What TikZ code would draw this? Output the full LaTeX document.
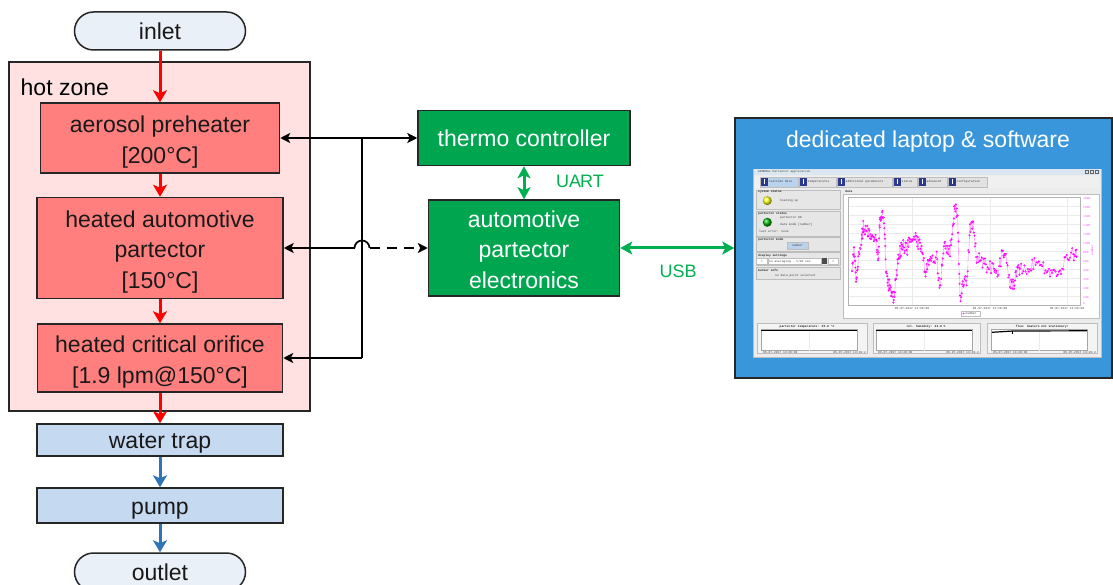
\documentclass[tikz,border=0pt]{standalone}
\usepackage{fontspec}
\setmainfont{Liberation Sans}
\newfontfamily\monof{Liberation Mono}
\usetikzlibrary{arrows.meta}
\definecolor{inletfill}{HTML}{EAF0F8}
\definecolor{hotfill}{HTML}{FFE1E1}
\definecolor{redbox}{HTML}{FF7F7F}
\definecolor{bluebox}{HTML}{C5D9F1}
\definecolor{flowred}{HTML}{FF0000}
\definecolor{flowblue}{HTML}{2E75B6}
\definecolor{greenbox}{HTML}{00A550}
\definecolor{greenline}{HTML}{00B050}
\definecolor{laptopblue}{HTML}{3A96DB}
\definecolor{edge}{HTML}{262626}
\definecolor{mag}{HTML}{FF00FF}
\definecolor{ssbg}{HTML}{ECECEC}
\definecolor{sspanel}{HTML}{E6E6E6}
\definecolor{ssline}{HTML}{BDBDBD}
\definecolor{sstitle}{HTML}{DCE6F0}
\definecolor{sstab}{HTML}{E2E2E2}
\definecolor{sstabsel}{HTML}{BBD2EC}
\definecolor{ssicon}{HTML}{2B3A8C}
\definecolor{ssgrid}{HTML}{EBEBEB}
\tikzset{ctip/.tip={Stealth[length=10pt,width=10pt,inset=2.5pt]}}
\newcommand\mstrut{\rule[-5pt]{0pt}{30pt}}
\newcommand\sstrut{\rule[-5pt]{0pt}{27pt}}
\begin{document}
\begin{tikzpicture}[x=1pt,y=-1pt,
  big/.style={font=\fontsize{23}{29.5}\selectfont},
  box/.style={draw=edge, line width=1.5pt, inner sep=0pt, align=center, big, text=black!90},
  pill/.style={box, fill=inletfill, rounded corners=19pt, minimum width=171pt, minimum height=38pt},
  hotbox/.style={box, fill=redbox, minimum width=245pt},
  coldbox/.style={box, fill=bluebox, minimum width=246pt},
  gbox/.style={box, fill=greenbox, text=white},
  redflow/.style={draw=flowred, line width=3pt, -{Stealth[length=12pt,width=14pt,inset=3pt]}},
  blueflow/.style={draw=flowblue, line width=3pt, -{Stealth[length=12pt,width=14pt,inset=3pt]}},
  conn/.style={draw=black, line width=1.7pt},
  gconn/.style={draw=greenline, line width=3pt, {Stealth[length=12pt,width=13pt,inset=3pt]}-{Stealth[length=12pt,width=13pt,inset=3pt]}},
  glabel/.style={text=greenline, font=\fontsize{18}{20}\selectfont, inner sep=0pt},
  tiny/.style={font=\monof\fontsize{3}{3.6}\selectfont, text=black!75, inner sep=0pt},
  tinyb/.style={font=\monof\bfseries\fontsize{3}{3.6}\selectfont, text=black!85, inner sep=0pt},
  sspan/.style={fill=sspanel, draw=ssline, line width=0.4pt},
]
\useasboundingbox (0,0) rectangle (1113,585);
\clip (0,0) rectangle (1113,585);
\fill[white] (0,0) rectangle (1113,585);

% hot zone
\node[draw=edge, line width=1.5pt, fill=hotfill, minimum width=301pt, minimum height=349pt, inner sep=0pt] (hotzone) at (159.5,236.5) {};
\node[big, anchor=west, inner sep=0pt] (hotlabel) at (20.5,87) {hot zone};

% left column
\node[pill] (inlet) at (160,31) {\sstrut inlet};
\node[hotbox, minimum width=239pt, minimum height=70pt] (pre) at (160,138) {\mstrut aerosol preheater\\{}[200°C]\mstrut};
\node[hotbox, minimum width=246pt, minimum height=101pt] (part) at (160,248) {\mstrut heated automotive\\partector\\{}[150°C]\mstrut};
\node[hotbox, minimum height=68pt] (orif) at (160,358) {\mstrut heated critical orifice\\{}[1.9 lpm@150°C]\mstrut};
\node[coldbox, minimum height=32pt] (trap) at (160,440) {\sstrut water trap};
\node[coldbox, minimum height=35pt] (pump) at (160,505.5) {\sstrut pump};
\node[pill] (outlet) at (160,572) {\sstrut outlet};

\draw[redflow] (inlet) -- (pre);
\draw[redflow] (pre) -- (part);
\draw[redflow] (part) -- (orif);
\draw[redflow] (orif) -- (trap);
\draw[blueflow] (trap) -- (pump);
\draw[blueflow] (pump) -- (outlet);

% green boxes
\node[gbox, minimum width=212pt, minimum height=55pt] (thermo) at (524,138) {\sstrut thermo controller};
\node[gbox, minimum width=191pt, minimum height=96pt] (elec) at (524,248) {\mstrut automotive\\partector\\electronics\mstrut};

% laptop
\node[draw=edge, line width=1.5pt, fill=laptopblue, minimum width=377pt, minimum height=260pt, inner sep=0pt] (laptop) at (923.5,248) {};
\node[big, text=white, inner sep=0pt] (laptoptitle) at (928,142) {dedicated laptop \& software};

% black connectors
\coordinate (b1) at (362,138);
\coordinate (b3) at (362,358);
\coordinate (hopL) at (354.5,248);
\coordinate (hopR) at (369.5,248);
\draw[conn] (b1) -- (b3);
\draw[conn, ctip-ctip] (pre.east) -- (thermo.west);
\draw[conn, -ctip] (b3) -- (orif.east);
\draw[conn, -ctip] (hopL) -- (part.east);
\draw[conn] (hopL) arc[start angle=180, end angle=0, radius=7.5pt];
\draw[conn, dash pattern=on 10pt off 7pt, -ctip] (hopR) -- (elec.west);

% green connectors
\draw[gconn] (thermo.south) -- (elec.north);
\node[glabel] (uart) at (580,181) {UA\kern-1pt RT};
\draw[gconn] (elec.east) -- (laptop.west);
\node[glabel] (usb) at (678,271) {USB};

% ---------- screenshot ----------
\fill[ssbg] (753,169) rectangle (1101,357);
\draw[ssline, line width=0.5pt] (753,169) rectangle (1101,357);
\fill[sstitle] (753.5,169.5) rectangle (1100.5,175);
\node[tiny, anchor=west] at (758,172) {GENERAL Partector application};
\foreach \bx in {1085,1090,1095}{
  \draw[black!60, line width=0.3pt] (\bx,170.5) rectangle (\bx+3,173.5);
}
\fill[ssbg!80!white] (755,176) rectangle (1099,188);
\foreach \xa/\xb/\lab [count=\i] in {760/797.7/realtime data, 799/835.7/temperatures, 837/891.7/additional parameters, 893/916.7/status, 918/946.7/advanced, 948/986.7/configuration}{
  \ifnum\i=1 \fill[sstabsel] (\xa,176.7) rectangle (\xb,186.7); \else \fill[sstab] (\xa,176.7) rectangle (\xb,186.7); \fi
  \draw[ssline, line width=0.3pt] (\xa,176.7) rectangle (\xb,186.7);
  \fill[ssicon] (\xa+1,177.7) rectangle (\xa+7.5,185.7);
  \fill[white] (\xa+3.8,179) rectangle (\xa+4.8,184.5);
  \node[tiny, anchor=west] at (\xa+8.5,181.7) {\lab};
}
% left panels
\draw[sspan] (756,190) rectangle (840,209);
\node[tinyb, anchor=west] at (758,192) {system status};
\shade[ball color=yellow!90!white] (767.3,200.7) circle[radius=4.5pt];
\node[tiny, anchor=west] at (780,200.7) {heating up};
\draw[sspan] (756,211) rectangle (840,236.7);
\node[tinyb, anchor=west] at (758,213.5) {partector status};
\shade[ball color=green!70!black] (767.3,222.3) circle[radius=4.5pt];
\node[tiny, anchor=west] at (780,217.7) {partector OK};
\node[tiny, anchor=west] at (780,225) {data mode [number]};
\node[tiny, anchor=west] at (759,231.3) {last error: none};
\draw[sspan] (756,237.3) rectangle (840,251);
\node[tinyb, anchor=west] at (758,239.3) {partector mode};
\fill[sstabsel] (787,242.3) rectangle (808,249);
\draw[ssline, line width=0.3pt] (787,242.3) rectangle (808,249);
\node[tiny] at (797.5,245.7) {number};
\draw[sspan] (756,252.3) rectangle (840,265.5);
\node[tinyb, anchor=west] at (758,255.7) {display settings};
\draw[fill=white, draw=ssline, line width=0.3pt] (756.5,258.3) rectangle (767,264.3);
\node[tiny] at (761.7,261.3) {<};
\draw[fill=white, draw=ssline, line width=0.3pt] (768,258.3) rectangle (820.7,264.3);
\node[tiny, anchor=west] at (769,261.3) {no averaging - 1/10 sec};
\fill[black!70] (821.7,258.3) rectangle (826.7,264.3);
\draw[fill=white, draw=ssline, line width=0.3pt] (828,258.3) rectangle (838.5,264.3);
\node[tiny] at (833.2,261.3) {>};
\draw[sspan] (756,267.7) rectangle (840,279);
\node[tinyb, anchor=west] at (758,270.5) {marker info};
\node[tiny] at (795,275.3) {no data point selected};
% main plot
\node[tinyb, anchor=west] at (845,191.5) {data};
\draw[fill=white, draw=ssline, line width=0.4pt] (843.3,194.5) rectangle (1099,318.3);
\foreach \gy in {206,215,224,233,242,251,260,269,278,287,296}{
  \draw[ssgrid, line width=0.3pt] (848.3,\gy) -- (1080.5,\gy);
}
\foreach \gx in {912,990,1067}{
  \draw[ssgrid, line width=0.3pt] (\gx,197.3) -- (\gx,305);
}
\draw[black!30, line width=0.4pt] (848.3,197.3) rectangle (1080.5,305);
\foreach \gy/\v in {199/2000,208/1800,217/1600,226/1400,235/1200,244/1000,253/800,262/600,271/400,280/300,289/200,298/100,304/0}{
  \node[tiny, text=mag!70, anchor=west] at (1083,\gy) {\v};
}
\node[tiny, text=mag!70, rotate=90] at (1092,250) {number};
\node[tiny] at (912,308.5) {06-07-2017 13:28:00};
\node[tiny] at (990,308.5) {06-07-2017 13:29:00};
\node[tiny] at (1067,308.5) {06-07-2017 13:29:00};
\draw[fill=white, draw=ssline, line width=0.3pt] (960.7,311.3) rectangle (980,315.7);
\fill[mag] (963.5,313.5) circle[radius=0.9pt];
\node[tiny, anchor=west] at (965.5,313.5) {number};
% magenta data
\begin{scope}[shift={(730,110)}, x=0.33333pt, y=-0.33333pt]
  \pgfmathsetseed{11}
  \xdef\prevx{365}\xdef\prevy{480}
  \foreach \x/\y [remember=\x as \lx (initially 365), remember=\y as \ly (initially 480)] in
   {372/420,378/510,385/440,395/380,400/350,410/360,420/380,430/370,440/400,445/440,450/320,455/310,462/330,468/470,475/520,482/540,490/575,497/520,505/440,512/420,520/410,530/420,540/390,555/380,565/400,575/410,585/490,595/450,605/440,620/445,630/540,640/420,650/410,660/420,670/330,675/285,683/330,690/570,700/510,710/520,720/360,730/340,740/440,755/450,770/470,790/470,800/500,815/440,825/420,840/520,850/530,860/490,870/480,890/480,910/460,930/470,950/480,970/490,990/480,1010/450,1030/430,1040/440}{
    \foreach \k in {1,2,3,4,5,6}{
      \pgfmathsetmacro\px{\lx+(\x-\lx)*\k/6}
      \pgfmathsetmacro\py{min(578,max(275,\ly+(\y-\ly)*\k/6+rand*20))}
      \draw[mag!55, line width=0.35pt] (\prevx,\prevy) -- (\px,\py);
      \fill[mag] (\px,\py) circle[radius=1.15pt];
      \xdef\prevx{\px}\xdef\prevy{\py}
    }
  }
\end{scope}
% bottom panels
\foreach \pa/\pb/\ia/\ib/\cx/\ttl in {757/867/761/857/807/{partector temperature: 35.8 °C}, 873/980/876/972/926/{rel. humidity: 24.8 \%}, 987/1097/991/1087/1042/{flow: heaters not stationary!}}{
  \draw[fill=ssbg!60!white, draw=ssline, line width=0.4pt] (\pa,323) rectangle (\pb,353.5);
  \node[tinyb] at (\cx,327) {\ttl};
  \draw[fill=white, draw=black!35, line width=0.3pt] (\ia,329.5) rectangle (\ib,350.5);
  \draw[ssgrid, line width=0.3pt] (\ia/2+\ib/2,329.5) -- (\ia/2+\ib/2,350.5);
  \node[tiny, anchor=west] at (\ia+2,352.3) {06-07-2017 13:28:00};
  \node[tiny, anchor=east] at (\pb-1,352.3) {06-07-2017 13:29:2};
}
\draw[black, line width=1.3pt] (761,330.5) -- (857,330.5);
\draw[black, line width=1.3pt] (876,330.5) -- (972,330.5);
\draw[black, line width=1.2pt] (992,332.3) -- (1013,331) -- (1087,330.8);
\draw[black, line width=0.5pt] (1012,331) -- (1012,333.5);
\end{tikzpicture}
\end{document}
